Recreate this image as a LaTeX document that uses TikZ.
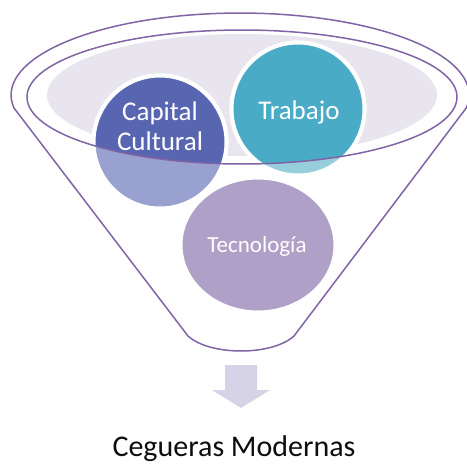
\documentclass[tikz,border=0pt]{standalone}
\usepackage{fontspec}
\setmainfont{Carlito}
\usetikzlibrary{shapes.geometric}
\definecolor{funnelLine}{RGB}{128,100,165}
\definecolor{funnelFill}{RGB}{232,229,238}
\definecolor{capDark}{RGB}{88,101,176}
\definecolor{capLight}{RGB}{152,161,208}
\definecolor{trabDark}{RGB}{74,171,198}
\definecolor{trabLight}{RGB}{150,206,219}
\definecolor{tecnoFill}{RGB}{175,160,200}
\definecolor{arrowFill}{RGB}{215,211,230}
\definecolor{titleText}{RGB}{13,13,13}
\begin{document}
\begin{tikzpicture}[x=1pt,y=-1pt,
  ball/.style={circle,draw=white,line width=4pt,minimum size=133pt,inner sep=0pt},
  lbl/.style={text=white,inner sep=0pt,anchor=base},
  rim/.style={draw=funnelLine,line width=1.5pt}]
\useasboundingbox (0,0) rectangle (467,466);
% top of the funnel
\fill[funnelFill] (242,95) ellipse [x radius=195, y radius=61];
\node[ball,fill=capLight] (capital) at (160,142) {};
\node[ball,fill=trabLight] (trabajo) at (298,109) {};
\node[ball,ellipse,fill=tecnoFill,minimum width=155pt,minimum height=135pt] (tecno) at (258,245) {};
\begin{scope}
\clip (242,97) ellipse [x radius=215, y radius=67];
\node[ball,fill=capDark] (capitalIn) at (160,142) {};
\node[ball,fill=trabDark] (trabajoIn) at (298,109) {};
\end{scope}
\draw[rim] (242,97) ellipse [x radius=215, y radius=67];
% funnel body
\draw[rim] (14,108) arc[start angle=170.9, end angle=369.1, x radius=229, y radius=82]
  -- (294,336) .. controls (272,356) and (210,356) .. (188,336) -- cycle;
\node[lbl,align=center,anchor=center,font=\fontsize{27}{30}\selectfont] (capitalT) at (160,126) {Capital\\Cultural};
\node[lbl,font=\fontsize{27}{30}\selectfont] (trabajoT) at (299,119) {Trabajo};
\node[lbl,font=\fontsize{23}{26}\selectfont] (tecnoT) at (257,252) {Tecnología};
% arrow down
\fill[arrowFill] (225,365) -- (257,365) -- (257,390) -- (270,390) -- (241,408) -- (212,390) -- (225,390) -- cycle;
\node[anchor=base,inner sep=0pt,text=titleText,font=\fontsize{30}{34}\selectfont] (cegueras) at (234,456) {Cegueras Modernas};
\end{tikzpicture}
\end{document}
